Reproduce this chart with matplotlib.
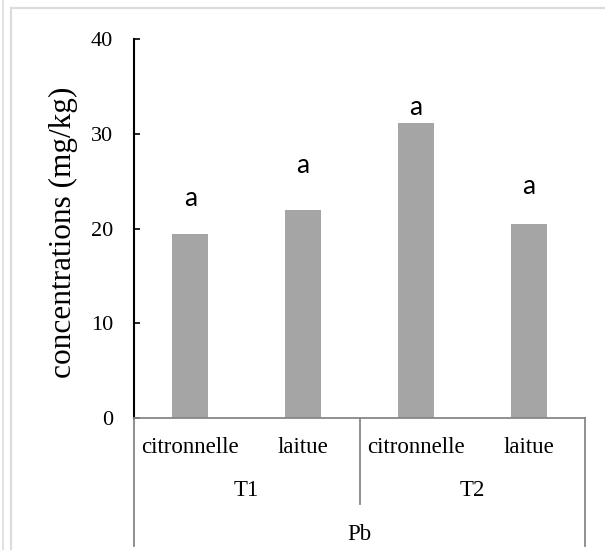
import matplotlib
matplotlib.use("Agg")
import matplotlib.pyplot as plt
from matplotlib.lines import Line2D
import matplotlib.transforms as mtransforms

# Data
plants = ["citronnelle", "laitue", "citronnelle", "laitue"]
treatments = ["T1", "T2"]
element = "Pb"
values = [19.4, 21.9, 31.1, 20.5]
letters = ["a", "a", "a", "a"]
letter_y = [23.2, 26.7, 32.8, 24.4]
y_ticks = [0, 10, 20, 30, 40]

serif = "Liberation Serif"
W, H = 605, 550
fig = plt.figure(figsize=(W / 100, H / 100), dpi=100)
ax = fig.add_axes([134 / W, 1 - 418 / H, (585 - 134) / W, (418 - 39) / H])

x = list(range(len(values)))
ax.bar(x, values, width=0.32, color="#A5A5A5", zorder=2)
ax.set_xlim(-0.5, len(values) - 0.5)
ax.set_ylim(0, 40)
ax.set_yticks(y_ticks)
ax.set_yticklabels([str(t) for t in y_ticks], fontfamily=serif, fontsize=16)
ax.tick_params(axis="y", direction="in", length=4, width=1.2, pad=15, colors="black")
ax.set_xticks([])

for s in ["top", "right"]:
    ax.spines[s].set_visible(False)
ax.spines["left"].set_linewidth(1.5)
ax.spines["left"].set_color("black")
ax.spines["bottom"].set_color("#878787")
ax.spines["bottom"].set_linewidth(1.3)

ax.set_ylabel("concentrations (mg/kg)", fontfamily=serif, fontsize=22.5)
ax.yaxis.set_label_coords(-0.124, 0.49)

for xi, lt, ly in zip(x, letters, letter_y):
    ax.text(xi, ly, lt, ha="center", va="center", fontfamily="Lato", fontsize=19, color="black")

# Multi-level category axis
trans = mtransforms.blended_transform_factory(ax.transData, ax.transAxes)
line_kw = dict(color="#878787", linewidth=1.3, transform=trans, clip_on=False)
ax.add_line(Line2D([-0.5, -0.5], [0, -0.338], **line_kw))
ax.add_line(Line2D([3.5, 3.5], [0, -0.338], **line_kw))
ax.add_line(Line2D([1.5, 1.5], [0, -0.227], **line_kw))

for xi, p in zip(x, plants):
    ax.text(xi, -0.079, p, transform=trans, ha="center", va="center",
            fontfamily=serif, fontsize=16.5)
for i, t in enumerate(treatments):
    ax.text(2 * i + 0.5, -0.19, t, transform=trans, ha="center", va="center",
            fontfamily=serif, fontsize=16.5)
ax.text(1.5, -0.308, element, transform=trans, ha="center", va="center",
        fontfamily=serif, fontsize=16.5)

# Screenshot frame lines
fc = "#DCDCDC"
fig.add_artist(Line2D([2.5 / W, 2.5 / W], [0, 1], color=fc, linewidth=1.2, transform=fig.transFigure))
fig.add_artist(Line2D([11 / W, 11 / W], [0, 1 - 8 / H], color=fc, linewidth=1.6, transform=fig.transFigure))
fig.add_artist(Line2D([11 / W, 1], [1 - 8 / H, 1 - 8 / H], color=fc, linewidth=1.6, transform=fig.transFigure))

fig.savefig("out.png", dpi=100)
